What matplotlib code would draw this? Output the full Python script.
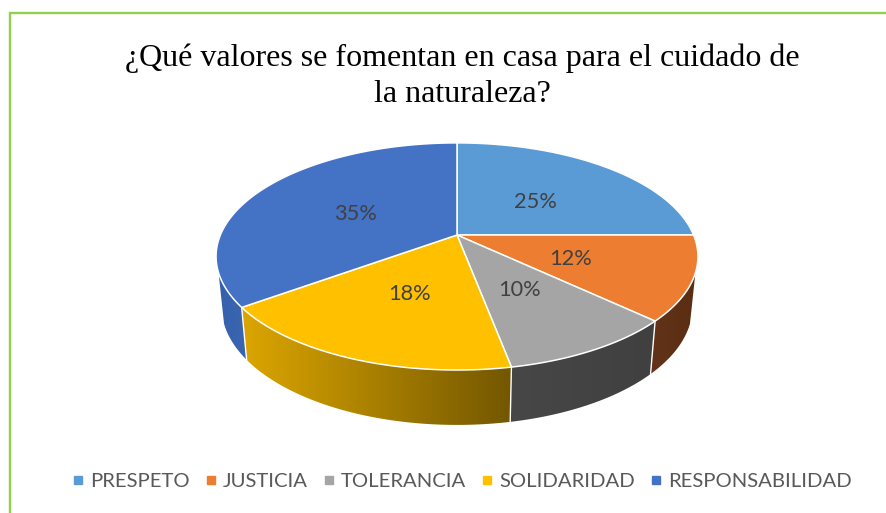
import numpy as np
import matplotlib
matplotlib.use('Agg')
import matplotlib.pyplot as plt
from matplotlib.lines import Line2D
from matplotlib.patches import Polygon

categories = ['PRESPETO', 'JUSTICIA', 'TOLERANCIA', 'SOLIDARIDAD', 'RESPONSABILIDAD']
values = [25, 12, 10, 18, 35]
labels = ['25%', '12%', '10%', '18%', '35%']
title = '¿Qué valores se fomentan en casa para el cuidado de\nla naturaleza?'

colors = ['#5B9BD5', '#ED7D31', '#A5A5A5', '#FFC000', '#4472C4']
# side wall colour at the left and right end of each slice
side_colors = [('#3A6A96', '#3A6A96'), ('#62331A', '#5A2E12'), ('#474747', '#404040'),
               ('#DCA600', '#735700'), ('#3560AE', '#3B66AE')]

cx, cy = 457, 235
B, A, k = 236.6, 109.5, 0.189  # perspective of the pie top
wall_from, wall_to = np.radians(108.9), np.radians(251.1)  # where the wall silhouette starts


def top_xy(theta, r=1.0):
    # theta clockwise from 12 o'clock, projected with simple perspective
    X, Y = r * np.sin(theta), r * np.cos(theta)
    w = 1 + k * Y
    return cx + B * X / w, cy - A * Y / w


def low_xy(theta):
    # rim of the bottom face
    x, y = top_xy(theta)
    return cx + (x - cx) * 0.977, cy + (y - cy) * 1.04 + 49.5


fig = plt.figure(figsize=(8.87, 5.13), dpi=100)
ax = fig.add_axes([0, 0, 1, 1])
ax.axis('off')

# chart frame, only top and left are inside the crop
ax.add_line(Line2D([10, 10, 887], [513, 13, 13], color='#92D050', lw=1.7, solid_joinstyle='miter'))

edges = 2 * np.pi * np.concatenate([[0], np.cumsum(values)]) / np.sum(values)

# side wall, a horizontal gradient clipped to the slice outline
for ii in range(len(values)):
    t0, t1 = max(edges[ii], wall_from), min(edges[ii + 1], wall_to)
    if t0 >= t1:
        continue
    tt = np.linspace(t0, t1, 120)
    x0, y0 = top_xy(tt)
    x1, y1 = low_xy(tt)
    outline = np.vstack([np.column_stack([x0, y0]), np.column_stack([x1, y1])[::-1]])
    c0, c1 = [np.array(matplotlib.colors.to_rgb(cc)) for cc in side_colors[ii]]
    ramp = np.linspace(0, 1, 256)[None, :, None]
    grad = c0[None, None, :] + (c1 - c0)[None, None, :] * ramp
    im = ax.imshow(grad, extent=[outline[:, 0].min(), outline[:, 0].max(), outline[:, 1].max(), outline[:, 1].min()],
                   aspect='auto', zorder=2, interpolation='bilinear')
    clip = Polygon(outline, closed=True, transform=ax.transData, fc='none', ec='none')
    ax.add_patch(clip)
    im.set_clip_path(clip)

ax.set_xlim(0, 887)
ax.set_ylim(513, 0)

# white seams between the slices on the near side
for ee in edges[1:-1]:
    if wall_from < ee < wall_to:
        xa, ya = top_xy(ee)
        xb, yb = low_xy(ee)
        ax.plot([xa, xb], [ya, yb], color='white', lw=1.0, zorder=3)

# top face
for ii in range(len(values)):
    tt = np.linspace(edges[ii], edges[ii + 1], 120)
    x0, y0 = top_xy(tt)
    pts = np.vstack([[cx, cy], np.column_stack([x0, y0])])
    ax.add_patch(Polygon(pts, closed=True, facecolor=colors[ii], edgecolor='white',
                         lw=1.1, joinstyle='round', zorder=4))
    mid = (edges[ii] + edges[ii + 1]) / 2
    lx, ly = top_xy(mid, 0.5)
    ax.text(lx, ly + 3, labels[ii], ha='center', va='center', color='#404040',
            fontsize=15.7, family='Lato', zorder=5)

ax.text(462.5, 76, title, ha='center', va='center', color='black', fontsize=23.05,
        family='Liberation Serif', linespacing=1.3)

handles = [Line2D([], [], ls='none', marker='s', ms=5.8, color=cc) for cc in colors]
leg = ax.legend(handles, categories, ncol=5, frameon=False, loc='center',
                bbox_to_anchor=(462 / 887, 1 - 481 / 513), prop={'family': 'Lato', 'size': 14.6},
                handlelength=0.6, handletextpad=0.3, columnspacing=0.74, borderpad=0)
for tx in leg.get_texts():
    tx.set_color('#595959')

fig.savefig('out.png', dpi=100)
